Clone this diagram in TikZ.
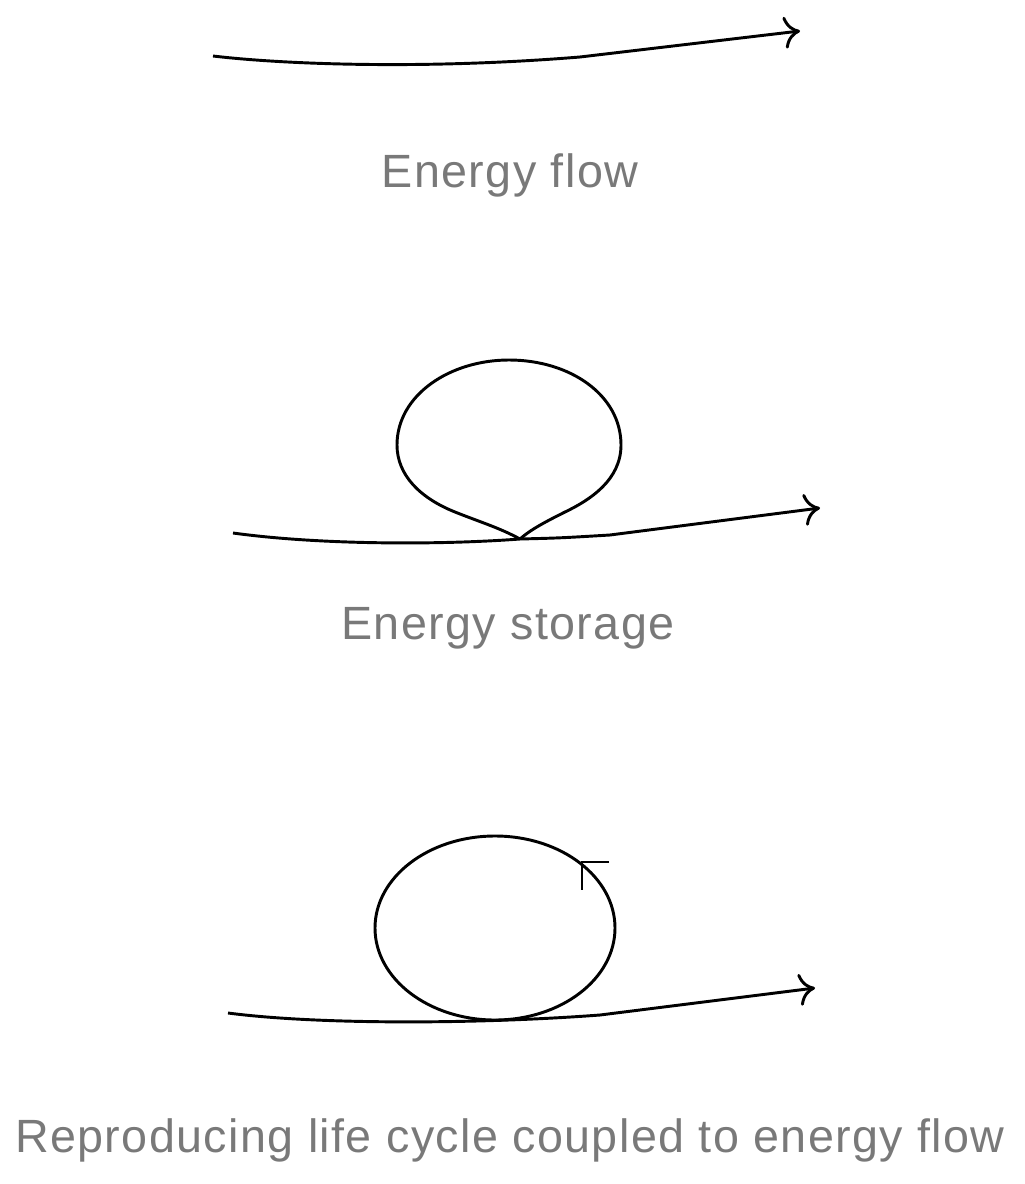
\documentclass[tikz,border=0pt]{standalone}
\usepackage{fontspec}
\setmainfont{Liberation Sans}[LetterSpace=3]
\usetikzlibrary{arrows.meta,shapes.geometric}
\begin{document}
\begin{tikzpicture}[x=0.75pt,y=-0.75pt,
  ln/.style={line width=2.2pt,black},
  ar/.style={ln,-{To[length=12pt,width=24pt]}},
  lbl/.style={text=gray!95!black,font=\fontsize{35}{40}\selectfont}]
\useasboundingbox (0,0) rectangle (1024,1184);
% 1
\coordinate (a1) at (213,56); \coordinate (b1) at (580,57); \coordinate (c1) at (800,31);
\draw[ln] (a1) .. controls (280,64) and (420,70) .. (b1);
\draw[ar] (b1) -- (c1);
\node[lbl] (t1) at (510,175) {Energy flow};
% 2
\coordinate (a2) at (233,533); \coordinate (p2) at (520,539); \coordinate (b2) at (610,535); \coordinate (c2) at (820,508);
\draw[ln] (a2) .. controls (320,545) and (440,545) .. (p2) .. controls (560,538) .. (b2);
\draw[ar] (b2) -- (c2);
\draw[ln] (p2) .. controls (500,528) and (480,522) .. (455,512)
  .. controls (420,498) and (397,475) .. (397,445)
  .. controls (397,395) and (450,360) .. (509,360)
  .. controls (570,360) and (621,395) .. (621,445)
  .. controls (621,480) and (590,500) .. (565,512)
  .. controls (545,522) and (530,530) .. (p2);
\node[lbl] (t2) at (508,628) {Energy storage};
% 3
\coordinate (a3) at (228,1013); \coordinate (b3) at (600,1015); \coordinate (c3) at (815,988);
\draw[ln] (a3) .. controls (320,1025) and (480,1024) .. (b3);
\draw[ar] (b3) -- (c3);
\node[ln,draw,ellipse,minimum width=240*0.75pt,minimum height=184*0.75pt,inner sep=0] (e3) at (495,928) {};
\coordinate (m3) at (582,862);
\draw[ln] (609,862) -- (m3) -- (582,890);
\node[lbl] (t3) at (510,1140) {Reproducing life cycle coupled to energy flow};
\end{tikzpicture}
\end{document}
